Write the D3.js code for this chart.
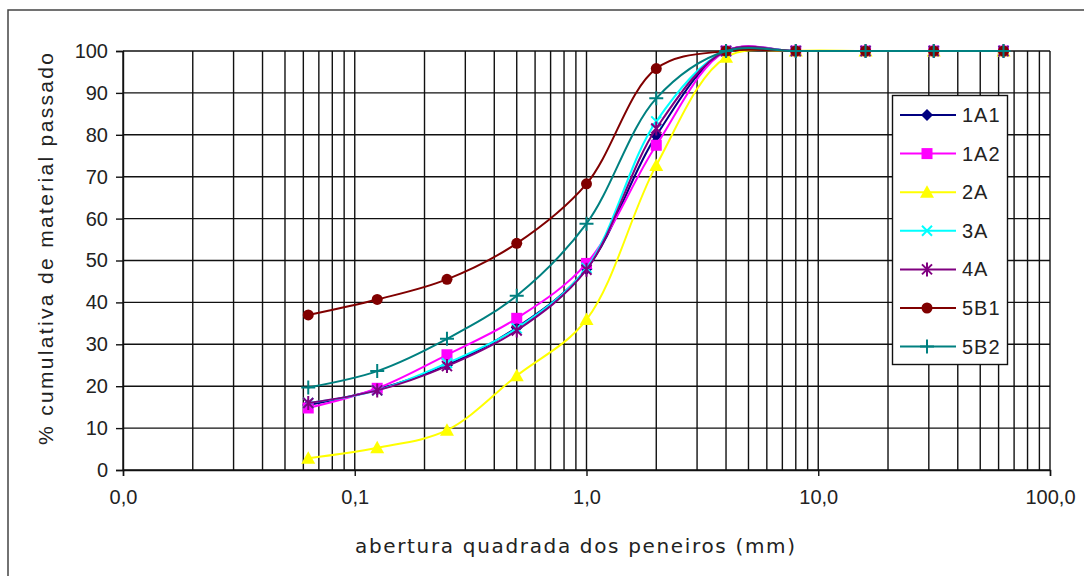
<!DOCTYPE html>
<html>
<head>
<meta charset="utf-8">
<script src="https://cdn.jsdelivr.net/npm/d3@7"></script>
<style>
  body { margin: 0; background: #fff; }
  text { font-family: "Liberation Sans", Arial, sans-serif; fill: #222; }
</style>
</head>
<body>
<svg id="chart" width="1084" height="576"></svg>
<script>
const sieves = [0.063, 0.125, 0.25, 0.5, 1, 2, 4, 8, 16, 31.5, 63];
const seriesNames = ['1A1', '1A2', '2A', '3A', '4A', '5B1', '5B2'];
const s1A1 = [15.5, 19.2, 25.0, 34.0, 48.0, 79.8, 100, 100, 100, 100, 100];
const s1A2 = [14.8, 19.5, 27.5, 36.2, 49.3, 77.5, 100, 100, 100, 100, 100];
const s2A  = [2.8, 5.3, 9.5, 22.5, 35.9, 72.7, 98.5, 100, 100, 100, 100];
const s3A  = [16.0, 19.0, 25.5, 33.8, 48.2, 83.2, 100, 100, 100, 100, 100];
const s4A  = [16.0, 19.0, 24.8, 33.3, 47.8, 81.5, 100, 100, 100, 100, 100];
const s5B1 = [37.0, 40.7, 45.5, 54.1, 68.3, 95.8, 100, 100, 100, 100, 100];
const s5B2 = [19.7, 23.6, 31.3, 41.6, 58.8, 88.7, 100, 100, 100, 100, 100];
const xTicks = [0.01, 0.1, 1, 10, 100];
const yTicks = [0, 10, 20, 30, 40, 50, 60, 70, 80, 90, 100];

const seriesValues = [s1A1, s1A2, s2A, s3A, s4A, s5B1, s5B2];
const colors = ['#000080', '#ff00ff', '#ffff00', '#00ffff', '#800080', '#800000', '#008080'];
const markers = ['diamond', 'square', 'triangle', 'x', 'star', 'circle', 'plus'];

const svg = d3.select('#chart');

const x = d3.scaleLog().domain([0.01, 100]).range([123, 1050]);
const y = d3.scaleLinear().domain([0, 100]).range([470, 51]);

// outer frame
svg.append('rect')
    .attr('x', 8).attr('y', 10)
    .attr('width', 1100).attr('height', 600)
    .attr('fill', 'none').attr('stroke', '#444').attr('stroke-width', 1.5);

// vertical grid at 1..9 of every decade
const gridX = [];
for (let e = -2; e < 2; e++) {
    for (let m = 1; m < 10; m++) gridX.push(m * Math.pow(10, e));
}
gridX.push(100);

const grid = svg.append('g');
grid.selectAll('line.v')
    .data(gridX)
    .enter().append('line')
    .attr('class', 'v')
    .attr('x1', d => x(d)).attr('x2', d => x(d))
    .attr('y1', y(100)).attr('y2', y(0))
    .attr('stroke', '#111').attr('stroke-width', 1.4);

grid.selectAll('line.h')
    .data(yTicks)
    .enter().append('line')
    .attr('class', 'h')
    .attr('x1', x(0.01)).attr('x2', x(100))
    .attr('y1', d => y(d)).attr('y2', d => y(d))
    .attr('stroke', '#111').attr('stroke-width', 1.4);

// axes
const xAxis = svg.append('g')
    .attr('transform', `translate(0,${y(0)})`)
    .call(d3.axisBottom(x).tickValues(xTicks).tickSize(6).tickPadding(14)
        .tickFormat(d => d.toFixed(1).replace('.', ',')));
const yAxis = svg.append('g')
    .attr('transform', `translate(${x(0.01)},0)`)
    .call(d3.axisLeft(y).tickValues(yTicks).tickSize(7).tickPadding(8));

[xAxis, yAxis].forEach(ax => {
    ax.select('.domain').attr('stroke', '#111').attr('stroke-width', 1.4);
    ax.selectAll('.tick line').attr('stroke', '#111').attr('stroke-width', 1.4);
    ax.selectAll('.tick text').style('font-size', '20px')
        .style('font-family', '"Liberation Sans", Arial, sans-serif').attr('fill', '#222');
});

// axis titles
svg.append('text')
    .attr('x', 355).attr('y', 553)
    .attr('textLength', 440).attr('lengthAdjust', 'spacing')
    .style('font-family', '"DejaVu Sans", Verdana, sans-serif')
    .style('font-size', '20px')
    .text('abertura quadrada dos peneiros (mm)');

svg.append('text')
    .attr('transform', 'translate(53,445) rotate(-90)')
    .attr('textLength', 392).attr('lengthAdjust', 'spacing')
    .style('font-size', '21px')
    .text('% cumulativa de material passado');

// marker drawing
function drawMarker(g, type, color) {
    if (type === 'diamond') {
        g.append('path').attr('d', 'M0,-6L6,0L0,6L-6,0Z').attr('fill', color);
    } else if (type === 'square') {
        g.append('rect').attr('x', -5.5).attr('y', -5.5).attr('width', 11).attr('height', 11).attr('fill', color);
    } else if (type === 'triangle') {
        g.append('path').attr('d', 'M0,-7L7,5.5L-7,5.5Z').attr('fill', color);
    } else if (type === 'circle') {
        g.append('circle').attr('r', 5.5).attr('fill', color);
    } else if (type === 'x') {
        g.append('path').attr('d', 'M-5,-5L5,5M-5,5L5,-5')
            .attr('stroke', color).attr('stroke-width', 2).attr('fill', 'none');
    } else if (type === 'star') {
        g.append('path').attr('d', 'M-5,-5L5,5M-5,5L5,-5M0,-7L0,7')
            .attr('stroke', color).attr('stroke-width', 2).attr('fill', 'none');
    } else if (type === 'plus') {
        g.append('path').attr('d', 'M-7,0L7,0M0,-7L0,7')
            .attr('stroke', color).attr('stroke-width', 2).attr('fill', 'none');
    }
}

const line = d3.line()
    .x(d => x(d[0]))
    .y(d => y(d[1]))
    .curve(d3.curveCatmullRom.alpha(0.5));

seriesValues.forEach((vals, i) => {
    const pts = sieves.map((s, j) => [s, vals[j]]);
    const g = svg.append('g');
    g.append('path')
        .datum(pts)
        .attr('d', line)
        .attr('fill', 'none')
        .attr('stroke', colors[i])
        .attr('stroke-width', 2);
    g.selectAll('g.m')
        .data(pts)
        .enter().append('g')
        .attr('class', 'm')
        .attr('transform', d => `translate(${x(d[0])},${y(d[1])})`)
        .each(function() { drawMarker(d3.select(this), markers[i], colors[i]); });
});

// legend
const legend = svg.append('g');
legend.append('rect')
    .attr('x', 892.5).attr('y', 95.5)
    .attr('width', 115).attr('height', 269)
    .attr('fill', '#fff').attr('stroke', '#111').attr('stroke-width', 1.4);

seriesNames.forEach((name, i) => {
    const ly = 115 + i * 38.6;
    const item = legend.append('g').attr('transform', `translate(0,${ly})`);
    item.append('line')
        .attr('x1', 900).attr('x2', 956)
        .attr('stroke', colors[i]).attr('stroke-width', 2);
    drawMarker(item.append('g').attr('transform', 'translate(927,0)'), markers[i], colors[i]);
    item.append('text')
        .attr('x', 962).attr('y', 0).attr('dy', '0.35em')
        .style('font-size', '20px')
        .style('letter-spacing', '1px')
        .text(name);
});
</script>
</body>
</html>
